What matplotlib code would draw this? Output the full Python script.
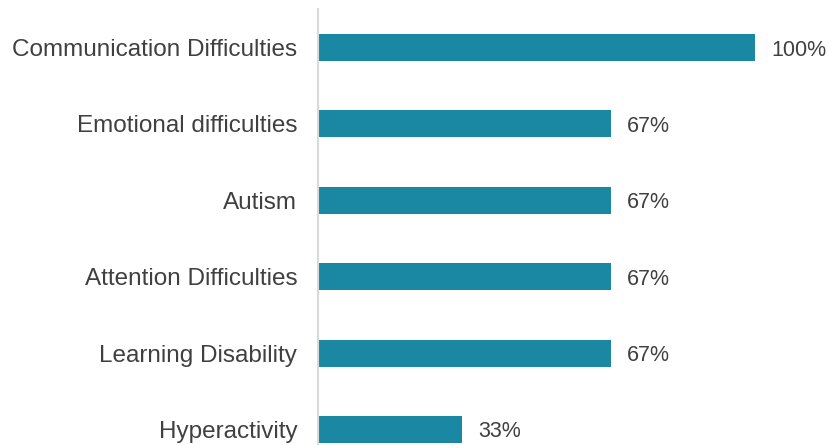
import matplotlib.pyplot as plt

# ── DATA ──────────────────────────────────────────────
categories = ["Communication Difficulties", "Emotional difficulties", "Autism",
              "Attention Difficulties", "Learning Disability", "Hyperactivity"]
values = [100, 67, 67, 67, 67, 33]

BAR_COLOR = "#1A88A3"
TEXT_COLOR = "#404040"

plt.rcParams["font.family"] = ["Liberation Sans", "DejaVu Sans"]

fig = plt.figure(figsize=(8.29, 4.45), dpi=100)
ax = fig.add_axes([318 / 829, 0, (755 - 318) / 829, (445 - 9) / 445])

pos = list(range(len(categories)))
ax.barh(pos, values, height=0.353, color=BAR_COLOR)

for p, v in zip(pos, values):
    ax.text(v + 3.7, p, f"{v}%", va="center_baseline", ha="left",
            fontsize=15.5, color=TEXT_COLOR, clip_on=False)

ax.set_xlim(0, 100)
ax.set_ylim(5.203, -0.504)
ax.set_yticks(pos)
ax.set_yticklabels(categories, fontsize=17.5, color=TEXT_COLOR)
ax.tick_params(axis="y", length=0, pad=15)
ax.set_xticks([])

for s in ["top", "right", "bottom"]:
    ax.spines[s].set_visible(False)
ax.spines["left"].set_color("#D9D9D9")
ax.spines["left"].set_linewidth(1.5)

fig.savefig("out.png", dpi=100, facecolor="white")
